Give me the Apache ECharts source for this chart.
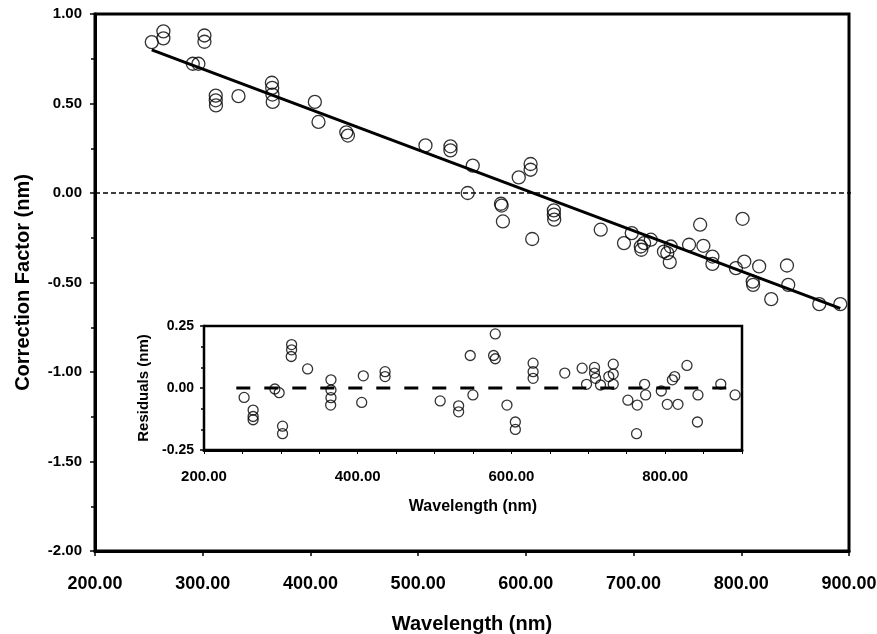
<!DOCTYPE html>
<html>
<head>
<meta charset="utf-8">
<script src="https://cdn.jsdelivr.net/npm/echarts@6/dist/echarts.min.js"></script>
<style>
  html, body { margin: 0; padding: 0; background: #fff; }
  #chart { width: 877px; height: 634px; }
</style>
</head>
<body>
<div id="chart"></div>
<script>
// 主图：校正因子 vs 波长
const mainWavelength = [
  252.7, 263.5, 263.5, 290.8, 296.0, 301.6, 301.6, 312.1, 312.1, 312.3,
  333.2, 364.2, 364.5, 364.7, 365.0, 404.1, 407.5, 433.3, 434.8, 506.8,
  530.0, 530.0, 550.7, 546.0, 593.4, 604.4, 604.4, 576.9, 577.5, 578.7,
  605.9, 626.0, 626.0, 626.3, 669.5, 691.1, 698.3, 706.7, 707.2, 709.8,
  716.0, 728.2, 731.3, 733.6, 734.5, 751.5, 761.8, 764.8, 773.2, 773.2,
  795.0, 802.8, 801.2, 810.6, 811.0, 816.6, 827.8, 842.4, 843.6, 872.4,
  891.9
]
const mainCorrection = [
  0.843, 0.903, 0.864, 0.722, 0.722, 0.880, 0.845, 0.544, 0.518, 0.489,
  0.541, 0.616, 0.587, 0.550, 0.509, 0.509, 0.397, 0.339, 0.321, 0.266,
  0.261, 0.238, 0.153, 0.000, 0.087, 0.162, 0.130, -0.060, -0.070, -0.159,
  -0.257, -0.097, -0.121, -0.149, -0.205, -0.280, -0.224, -0.299, -0.317, -0.280,
  -0.261, -0.327, -0.336, -0.386, -0.299, -0.289, -0.177, -0.295, -0.355, -0.396,
  -0.420, -0.383, -0.144, -0.495, -0.513, -0.410, -0.593, -0.405, -0.513, -0.621,
  -0.621
]
// 回归直线端点
const fitWavelength = [252.7, 891.9]
const fitCorrection = [0.80, -0.645]
// 零线
const mainZeroX = [200, 908]

// 插图：残差
const residWavelength = [
  252.2, 263.9, 263.9, 263.9, 292.2, 297.8, 302.2, 302.2, 314.0, 314.0,
  313.5, 334.8, 365.2, 365.2, 365.2, 364.8, 407.3, 405.2, 435.6, 435.6,
  507.3, 531.3, 531.3, 546.4, 549.9, 579.0, 576.8, 579.0, 594.2, 605.1,
  605.1, 628.2, 628.2, 628.2, 669.4, 692.0, 697.7, 708.1, 708.1, 709.5,
  715.9, 726.7, 732.5, 732.5, 732.5, 751.5, 763.7, 762.8, 773.3, 774.6,
  795.0, 802.8, 809.4, 812.4, 816.7, 828.4, 842.7, 842.0, 872.4, 891.0
]
const residValue = [
  -0.038, -0.089, -0.115, -0.128, -0.004, -0.019, -0.154, -0.184, 0.175, 0.154,
  0.127, 0.077, 0.033, -0.008, -0.039, -0.069, 0.049, -0.058, 0.066, 0.046,
  -0.052, -0.072, -0.096, 0.131, -0.028, 0.218, 0.131, 0.118, -0.069, -0.137,
  -0.167, 0.100, 0.066, 0.039, 0.060, 0.080, 0.015, 0.083, 0.060, 0.039,
  0.012, 0.046, 0.096, 0.056, 0.015, -0.049, -0.069, -0.184, 0.015, -0.028,
  -0.012, -0.066, 0.033, 0.046, -0.066, 0.091, -0.028, -0.137, 0.016, -0.028
]
const insetZeroX = [242, 889]

const FONT = "'Liberation Sans', Arial, sans-serif"
const pairs = (xs, ys) => xs.map((x, i) => [x, ys[i]])
const fix2 = v => v.toFixed(2)

const chart = echarts.init(document.getElementById('chart'))

chart.setOption({
  animation: false,
  backgroundColor: '#fff',
  textStyle: { fontFamily: FONT },
  grid: [
    { left: 95, right: 28, top: 14, bottom: 83, outerBoundsMode: 'none', show: true, borderColor: '#000', borderWidth: 3 },
    { left: 204, right: 135, top: 326, bottom: 184, outerBoundsMode: 'none', show: true, borderColor: '#000', borderWidth: 2.5, backgroundColor: '#fff', z: 5 }
  ],
  xAxis: [
    {
      gridIndex: 0, type: 'value', min: 200, max: 900, interval: 100,
      name: 'Wavelength (nm)', nameLocation: 'middle', nameGap: 63,
      nameTextStyle: { fontSize: 20, fontWeight: 'bold', color: '#000', fontFamily: FONT },
      axisLine: { show: true, onZero: false, lineStyle: { color: '#000', width: 3 } },
      axisTick: { show: true, inside: false, length: 5, lineStyle: { color: '#000', width: 1.5 } },
      axisLabel: { formatter: fix2, fontSize: 18, fontWeight: 'bold', color: '#000', margin: 24, fontFamily: FONT },
      splitLine: { show: false }
    },
    {
      gridIndex: 1, type: 'value', min: 200, max: 900, interval: 50,
      name: 'Wavelength (nm)', nameLocation: 'middle', nameGap: 49,
      nameTextStyle: { fontSize: 16, fontWeight: 'bold', color: '#000', fontFamily: FONT },
      axisLine: { show: true, onZero: false, lineStyle: { color: '#000', width: 3 } },
      axisTick: { show: true, inside: false, length: 4, lineStyle: { color: '#000', width: 1 } },
      axisLabel: {
        formatter: v => (v % 200 === 0 && v < 900) ? fix2(v) : '',
        fontSize: 15, fontWeight: 'bold', color: '#000', margin: 19, fontFamily: FONT
      },
      splitLine: { show: false }
    }
  ],
  yAxis: [
    {
      gridIndex: 0, type: 'value', min: -2, max: 1, interval: 0.5,
      name: 'Correction Factor (nm)', nameLocation: 'middle', nameGap: 62,
      nameTextStyle: { fontSize: 20, fontWeight: 'bold', color: '#000', fontFamily: FONT },
      axisLine: { show: true, onZero: false, lineStyle: { color: '#000', width: 3 } },
      axisTick: { show: true, inside: false, length: 5, lineStyle: { color: '#000', width: 1.5 } },
      minorTick: { show: true, splitNumber: 2, length: 4, lineStyle: { color: '#000', width: 1.5 } },
      axisLabel: { formatter: fix2, fontSize: 15, fontWeight: 'bold', color: '#000', margin: 13, fontFamily: FONT },
      splitLine: { show: false }
    },
    {
      gridIndex: 1, type: 'value', min: -0.25, max: 0.25, interval: 0.25,
      name: 'Residuals (nm)', nameLocation: 'middle', nameGap: 52,
      nameTextStyle: { fontSize: 15, fontWeight: 'bold', color: '#000', fontFamily: FONT },
      axisLine: { show: true, onZero: false, lineStyle: { color: '#000', width: 2.5 } },
      axisTick: { show: true, inside: false, length: 4, lineStyle: { color: '#000', width: 1.5 } },
      minorTick: { show: true, splitNumber: 3, length: 3, lineStyle: { color: '#000', width: 1.5 } },
      axisLabel: { formatter: fix2, fontSize: 14, fontWeight: 'bold', color: '#000', margin: 10, fontFamily: FONT },
      splitLine: { show: false }
    }
  ],
  series: [
    {
      type: 'line', xAxisIndex: 0, yAxisIndex: 0, clip: false,
      data: pairs(mainZeroX, [0, 0]), symbol: 'none',
      lineStyle: { color: '#000', width: 1.3, type: [5, 3] }, z: 1
    },
    {
      type: 'line', xAxisIndex: 0, yAxisIndex: 0,
      data: pairs(fitWavelength, fitCorrection), symbol: 'none',
      lineStyle: { color: '#000', width: 3 }, z: 2
    },
    {
      type: 'scatter', xAxisIndex: 0, yAxisIndex: 0,
      data: pairs(mainWavelength, mainCorrection),
      symbol: 'circle', symbolSize: 13,
      itemStyle: { color: 'rgba(0,0,0,0)', borderColor: '#000', borderWidth: 1.3 }, z: 3
    },
    {
      type: 'line', xAxisIndex: 1, yAxisIndex: 1,
      data: pairs(insetZeroX, [0, 0]), symbol: 'none',
      lineStyle: { color: '#000', width: 3, type: [14, 14] }, z: 6
    },
    {
      type: 'scatter', xAxisIndex: 1, yAxisIndex: 1,
      data: pairs(residWavelength, residValue),
      symbol: 'circle', symbolSize: 10,
      itemStyle: { color: 'rgba(0,0,0,0)', borderColor: '#000', borderWidth: 1.3 }, z: 7
    }
  ]
})
</script>
</body>
</html>
